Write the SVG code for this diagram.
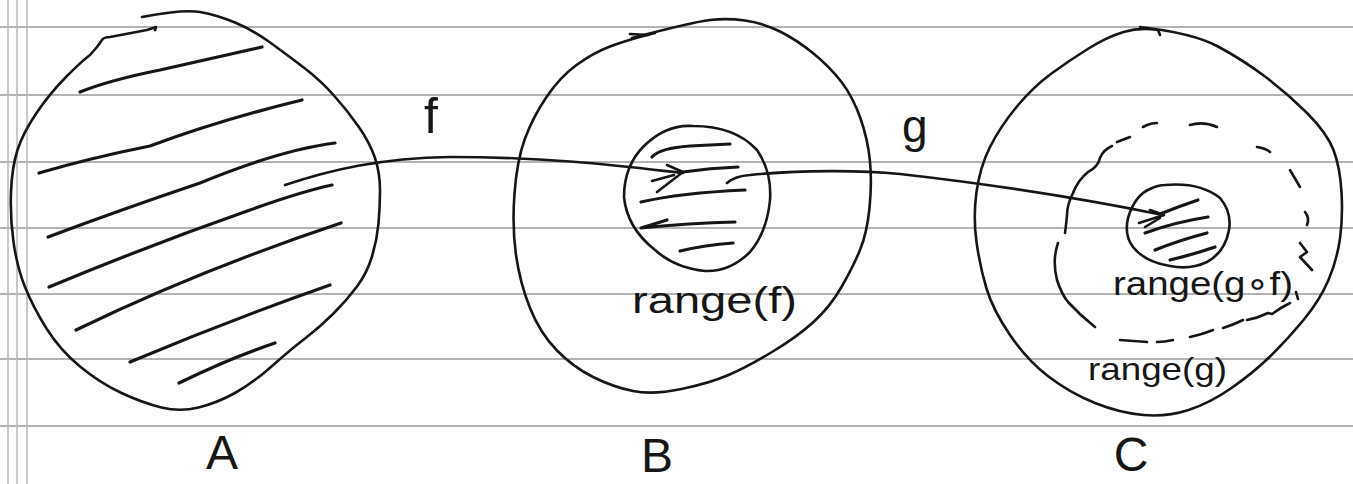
<svg xmlns="http://www.w3.org/2000/svg" width="1353" height="484" viewBox="0 0 1353 484">
<style>
.rule{stroke:#b4b4b4;stroke-width:2;fill:none}
.vrule{stroke:#b8b8b8;stroke-width:1.5;fill:none}
.ink{stroke:#161616;stroke-width:2.6;fill:none;stroke-linecap:round;stroke-linejoin:round}
.hatch{stroke:#161616;stroke-width:3.2;fill:none;stroke-linecap:round;stroke-linejoin:round}
.dash{stroke:#161616;stroke-width:2.6;fill:none;stroke-linecap:round;stroke-linejoin:round}
.lbl{font-family:"Liberation Sans","DejaVu Sans",sans-serif;fill:#161616}
.big{font-size:48px}
</style>
<rect width="1353" height="484" fill="#ffffff"/>
<g id="paper">
<path class="rule" d="M0,27H1353M0,95H1353M0,162H1353M0,228H1353M0,294H1353M0,359H1353M0,426H1353"/>
<path class="vrule" d="M8,0V484M17,0V484M27,0V484"/>
</g>
<g id="node-A">
<path class="ink" d="M142,17 Q183,9 200,12 Q217,15 235,22.5 Q253,30 271.5,43.5 Q290,57 305,68.5 Q320,80 333.5,95 Q347,110 358.5,126.5 Q370,143 375,158 Q380,173 380,190 Q380,207 378.5,223.5 Q377,240 372,256.5 Q367,273 357,286.5 Q347,300 333.5,313.5 Q320,327 305,338.5 Q290,350 271.5,366.5 Q253,383 235,393 Q217,403 198.5,407.5 Q180,412 161.5,407.5 Q143,403 121.5,393 Q100,383 80,366.5 Q60,350 46.5,328.5 Q33,307 25,287 Q17,267 13.5,242 Q10,217 11,192 Q12,167 17.5,150 Q23,133 36.5,113 Q50,93 66.5,76.5 Q83,60 90,55 L97,47 L102,40 Q104,37 110,37 L147,30 L156,27 L155,30"/>
<path class="hatch" d="M80,92 Q110,80 160,70 L262,47"/>
<path class="hatch" d="M39,173 Q90,158 150,146 Q220,120 302,100"/>
<path class="hatch" d="M48,237 Q120,210 200,183 Q280,150 335,143"/>
<path class="hatch" d="M49,287 Q150,245 250,210 Q300,192 332,185"/>
<path class="hatch" d="M76,330 Q200,270 341,223"/>
<path class="hatch" d="M130,362 Q230,320 330,285"/>
<path class="hatch" d="M179,383 Q230,358 275,343"/>
<text class="lbl big" x="222" y="469" text-anchor="middle">A</text>
</g>
<g id="node-B">
<path class="ink" d="M630,34 L648,35"/>
<path class="ink" d="M632,38 Q693,22 710,20 Q727,18 745,20.5 Q763,23 780,31.5 Q797,40 813.5,53.5 Q830,67 841.5,82 Q853,97 860.5,118.5 Q868,140 870,161.5 Q872,183 869.5,208 Q867,233 860,250 Q853,267 841.5,287 Q830,307 813.5,322 Q797,337 772,352 Q747,367 728.5,375 Q710,383 681.5,389 Q653,395 633,391 Q613,387 593,377 Q573,367 556.5,350 Q540,333 530,308 Q520,283 516,255 Q512,227 514.5,193.5 Q517,160 525,138.5 Q533,117 546.5,97 Q560,77 576.5,65 Q593,53 610,46.5 Q627,40 655,33"/>
<path id="rangef" class="ink" d="M693,126 Q735,126 757,150 Q772,172 770,200 Q767,232 750,252 Q730,272 705,271 Q675,268 655,250 Q627,228 624,197 Q624,165 645,145 Q667,124 693,126"/>
<path class="hatch" d="M652,157 Q660,148 690,146 L730,144"/>
<path class="hatch" d="M683,172 Q710,168 738,167"/>
<path class="hatch" d="M641,202 Q680,193 745,190"/>
<path class="hatch" d="M667,220 L641,228 Q690,223 735,222"/>
<path class="hatch" d="M680,251 Q705,245 733,243"/>
<text class="lbl" x="632" y="313" font-size="36" textLength="165" lengthAdjust="spacingAndGlyphs">range(f)</text>
<text class="lbl big" x="657" y="472" text-anchor="middle">B</text>
</g>
<g id="node-C">
<path class="ink" d="M1140,27 Q1193,33 1218,46.5 Q1243,60 1265,76.5 Q1287,93 1307,113 Q1327,133 1333.5,150 Q1340,167 1341.5,192 Q1343,217 1340,238.5 Q1337,260 1328.5,280 Q1320,300 1303.5,320 Q1287,340 1270,356.5 Q1253,373 1231.5,388 Q1210,403 1188.5,410 Q1167,417 1143.5,415 Q1120,413 1095,403 Q1070,393 1048.5,376.5 Q1027,360 1010,335 Q993,310 986.5,288.5 Q980,267 976.5,242 Q973,217 976.5,192 Q980,167 990,147 Q1000,127 1016.5,107 Q1033,87 1051.5,73.5 Q1070,60 1088.5,48.5 Q1107,37 1123.5,32 Q1140,27 1158,30 L1160,35"/>
<g id="range-g">
<path class="dash" d="M1143,127 Q1150,123 1157,123"/>
<path class="dash" d="M1190,125 Q1203,121 1217,127"/>
<path class="dash" d="M1257,147 Q1265,148 1270,152"/>
<path class="dash" d="M1290,170 L1300,187"/>
<path class="dash" d="M1305,212 Q1310,218 1307,225"/>
<path class="dash" d="M1300,243 L1307,252 L1300,257 L1312,270"/>
<path class="dash" d="M1296,292 L1298,299"/>
<path class="dash" d="M1290,303 Q1280,308 1272,314 L1268,313 Q1258,318 1247,320"/>
<path class="dash" d="M1243,320 Q1233,325 1223,328"/>
<path class="dash" d="M1213,330 Q1200,335 1190,337"/>
<path class="dash" d="M1173,340 Q1165,342 1157,342"/>
<path class="dash" d="M1147,342 Q1133,341 1120,340"/>
<path class="dash" d="M1117,142 L1130,137"/>
<path class="dash" d="M1112,146 Q1103,150 1100,158 Q1098,167 1088,172 Q1078,180 1073,193 Q1067,205 1067,215 Q1066,226 1065,233"/>
<path class="dash" d="M1058,243 Q1052,260 1057,280 Q1062,295 1068,302 Q1080,315 1095,327"/>
</g>
<path id="rangegf" class="ink" d="M1165,185 Q1200,182 1220,198 Q1232,212 1229,230 Q1225,252 1207,262 Q1190,270 1170,266 Q1145,262 1133,247 Q1124,235 1128,218 Q1135,195 1150,189 Q1158,185 1165,185"/>
<path class="hatch" d="M1160,214 Q1180,206 1198,200"/>
<path class="hatch" d="M1145,233 Q1175,222 1208,217"/>
<path class="hatch" d="M1155,250 Q1180,240 1207,233"/>
<path class="hatch" d="M1170,260 Q1195,254 1215,247"/>
<text class="lbl" x="1113" y="295" font-size="34" textLength="180" lengthAdjust="spacingAndGlyphs">range(g∘f)</text>
<text class="lbl" x="1088" y="380" font-size="32" textLength="139" lengthAdjust="spacingAndGlyphs">range(g)</text>
<text class="lbl big" x="1131" y="471" text-anchor="middle">C</text>
</g>
<g id="connectors">
<g id="edge-f">
<path class="ink" d="M285,185 C330,170 380,158 450,157 C550,157 620,166 683,173"/>
<path class="ink" d="M667,165 L683,172 L657,192 M652,181 L674,175"/>
<text class="lbl" x="424" y="133" font-size="50">f</text>
</g>
<g id="edge-g">
<path class="ink" d="M727,183 Q735,176 750,175 C800,170 860,170 900,174 C980,183 1080,198 1163,215"/>
<path class="ink" d="M1150,210 L1164,215 L1139,223 M1145,227 L1160,218"/>
<text class="lbl" x="902" y="142" font-size="46">g</text>
</g>
</g>
</svg>
